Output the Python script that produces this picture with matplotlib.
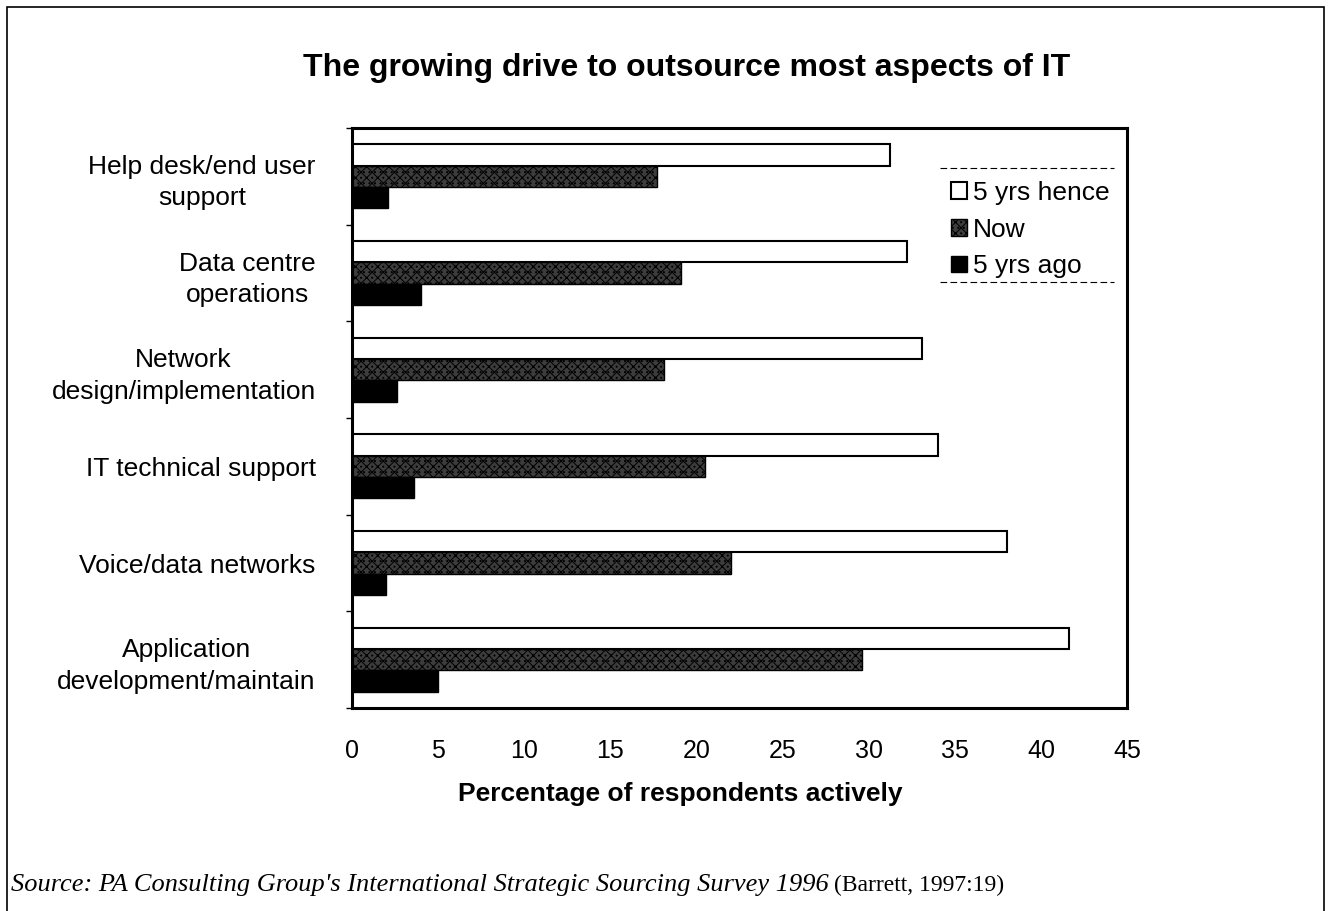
import matplotlib.pyplot as plt
import numpy as np
from matplotlib.lines import Line2D
from matplotlib.patches import Rectangle

categories = ['Help desk/end user\nsupport', 'Data centre\noperations',
              'Network\ndesign/implementation', 'IT technical support',
              'Voice/data networks', 'Application\ndevelopment/maintain']
hence = [31.2, 32.2, 33.1, 34.0, 38.0, 41.6]
now = [17.7, 19.1, 18.1, 20.5, 22.0, 29.6]
ago = [2.1, 4.0, 2.6, 3.6, 2.0, 5.0]
series = ['5 yrs hence', 'Now', '5 yrs ago']
xticks = [0, 5, 10, 15, 20, 25, 30, 35, 40, 45]

plt.rcParams['font.family'] = ['Liberation Sans', 'DejaVu Sans']
plt.rcParams['hatch.color'] = '#d0d0d0'
plt.rcParams['hatch.linewidth'] = 0.7

fig = plt.figure(figsize=(13.28, 9.11), dpi=100)
ax = fig.add_axes([0.265, 0.2228, 0.584, 0.6367])

y = np.arange(len(categories))
h = 0.22
ax.barh(y - h, hence, height=h, color='white', edgecolor='black', linewidth=1.5, label=series[0])
ax.barh(y, now, height=h, color='#3c3c3c', edgecolor='black', linewidth=1.0,
        hatch='xxx...', label=series[1])
ax.barh(y + h, ago, height=h, color='black', edgecolor='black', label=series[2])

ax.set_ylim(len(categories) - 0.5, -0.5)
ax.set_xlim(0, 45)
ax.set_yticks(y)
ax.set_yticklabels(categories, fontsize=19, ha='right', multialignment='center',
                   linespacing=1.4)
ax.tick_params(axis='y', length=0, pad=26)
ax.set_yticks(np.arange(-0.5, len(categories), 1), minor=True)
ax.tick_params(axis='y', which='minor', length=4, width=1)
ax.set_xticks(xticks)
ax.set_xticklabels([str(t) for t in xticks], fontsize=18)
ax.tick_params(axis='x', length=0, pad=22)
for s in ax.spines.values():
    s.set_linewidth(2.2)

ax.set_xlabel('Percentage of respondents actively', fontsize=19, fontweight='bold',
              labelpad=14, x=0.423)
fig.text(0.517, 0.925, 'The growing drive to outsource most aspects of IT',
         ha='center', va='center', fontsize=23, fontweight='bold')

leg = ax.legend(loc='upper right', bbox_to_anchor=(0.99, 0.927), frameon=False,
                fontsize=19, handlelength=0.6, handleheight=0.6, handletextpad=0.2,
                labelspacing=0.48, borderaxespad=0)
for yy in (0.931, 0.735):
    ax.add_line(Line2D([0.758, 0.982], [yy, yy], transform=ax.transAxes,
                       color='black', linestyle=(0, (6, 3)), linewidth=0.8))

fig.patches.append(Rectangle((0.0055, -0.01), 0.9915, 1.002, transform=fig.transFigure,
                             fill=False, edgecolor='black', linewidth=1.2))

t1 = fig.text(0.008, 0.022,
              "Source: PA Consulting Group's International Strategic Sourcing Survey 1996",
              fontsize=19, fontstyle='italic', family='Liberation Serif', va='baseline')
fig.canvas.draw()
bb = t1.get_window_extent()
x1 = fig.transFigure.inverted().transform((bb.x1, bb.y0))[0]
fig.text(x1 + 0.004, 0.022, '(Barrett, 1997:19)', fontsize=17,
         family='Liberation Serif', va='baseline')

fig.savefig('out.png', dpi=100)
